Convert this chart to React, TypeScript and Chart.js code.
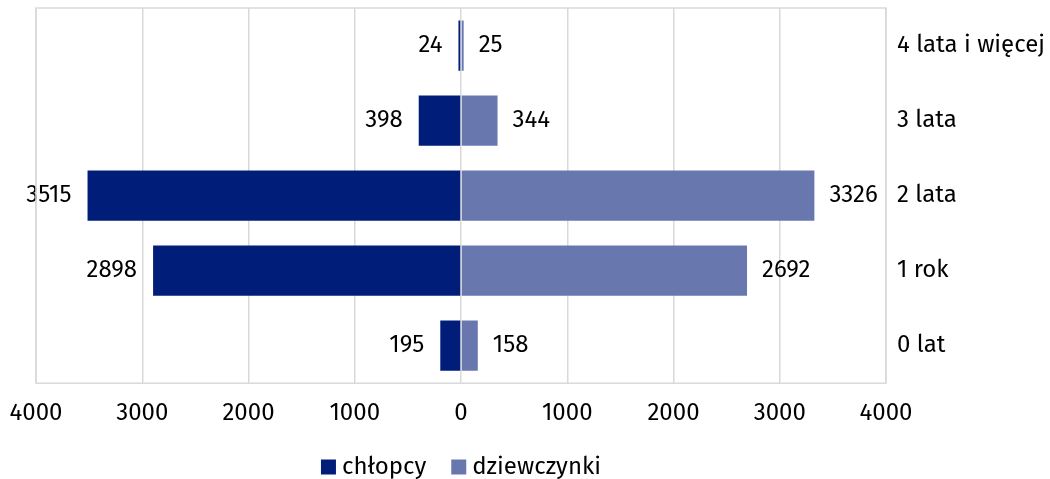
import React, { useEffect, useRef } from "react";
import { Chart, registerables } from "chart.js";

Chart.register(...registerables);

const categories = ["4 lata i więcej", "3 lata", "2 lata", "1 rok", "0 lat"];
const boys = [24, 398, 3515, 2898, 195];
const girls = [25, 344, 3326, 2692, 158];
const seriesNames = ["chłopcy", "dziewczynki"];
const xTicks = [-4000, -3000, -2000, -1000, 0, 1000, 2000, 3000, 4000];

const BOYS_COLOR = "#001E79";
const GIRLS_COLOR = "#6878AF";
const COLORS = [BOYS_COLOR, GIRLS_COLOR];
const FONT = "'Fira Sans', 'Open Sans', sans-serif";
const FS = 24;

export default function App() {
  const ref = useRef<HTMLCanvasElement | null>(null);

  useEffect(() => {
    document.body.style.margin = "0";
    const canvas = ref.current;
    if (!canvas) return;

    const labelPlugin = {
      id: "valueLabels",
      afterDatasetsDraw(chart: any) {
        const ctx = chart.ctx;
        ctx.save();
        ctx.font = `${FS}px ${FONT}`;
        ctx.fillStyle = "#000";
        ctx.textBaseline = "middle";
        chart.data.datasets.forEach((ds: any, di: number) => {
          const meta = chart.getDatasetMeta(di);
          meta.data.forEach((el: any, i: number) => {
            const v = ds.data[i];
            const txt = String(Math.abs(v));
            if (v < 0) {
              ctx.textAlign = "right";
              ctx.fillText(txt, el.x - 16, el.y);
            } else {
              ctx.textAlign = "left";
              ctx.fillText(txt, el.x + 15, el.y);
            }
          });
        });
        ctx.restore();
      },
    };

    const framePlugin = {
      id: "frame",
      afterDraw(chart: any) {
        const { left, right, top, bottom } = chart.chartArea;
        const ctx = chart.ctx;
        ctx.save();
        ctx.strokeStyle = "#D9D9D9";
        ctx.lineWidth = 1.5;
        ctx.strokeRect(left, top, right - left, bottom - top);
        ctx.restore();
      },
    };

    const legendPlugin = {
      id: "customLegend",
      afterDraw(chart: any) {
        const ctx = chart.ctx;
        const { left, right } = chart.chartArea;
        const box = 15;
        const gapText = 6;
        const gapItem = 25;
        const cy = 467;
        ctx.save();
        ctx.font = `${FS}px ${FONT}`;
        ctx.textBaseline = "middle";
        ctx.textAlign = "left";
        const widths = seriesNames.map((n) => ctx.measureText(n).width);
        const total =
          widths.reduce((a, w) => a + box + gapText + w, 0) +
          gapItem * (seriesNames.length - 1);
        let x = (left + right) / 2 - total / 2;
        seriesNames.forEach((n, i) => {
          ctx.fillStyle = COLORS[i];
          ctx.fillRect(x, cy - box / 2, box, box);
          x += box + gapText;
          ctx.fillStyle = "#000";
          ctx.fillText(n, x, cy);
          x += widths[i] + gapItem;
        });
        ctx.restore();
      },
    };

    const chart = new Chart(canvas, {
      type: "bar",
      data: {
        labels: categories,
        datasets: [
          {
            label: seriesNames[0],
            data: boys.map((v) => -v),
            backgroundColor: BOYS_COLOR,
            categoryPercentage: 1,
            barPercentage: 0.67,
          },
          {
            label: seriesNames[1],
            data: girls,
            backgroundColor: GIRLS_COLOR,
            categoryPercentage: 1,
            barPercentage: 0.67,
          },
        ],
      },
      options: {
        indexAxis: "y",
        animation: false,
        responsive: true,
        maintainAspectRatio: false,
        layout: { padding: { left: 36, right: 0, top: 8, bottom: 35 } },
        scales: {
          x: {
            stacked: true,
            min: -4000,
            max: 4000,
            afterBuildTicks(scale: any) {
              scale.ticks = xTicks.map((v) => ({ value: v }));
            },
            afterFit(scale: any) {
              scale.paddingLeft = 0;
              scale.paddingRight = 0;
            },
            ticks: {
              callback: (v: any) => String(Math.abs(Number(v))),
              font: { family: FONT, size: FS },
              color: "#000",
              padding: 16,
              maxRotation: 0,
            },
            grid: { color: "#D9D9D9", drawTicks: false, lineWidth: 1.5 },
            border: { display: false },
          },
          y: {
            stacked: true,
            position: "right",
            ticks: {
              font: { family: FONT, size: FS },
              color: "#000",
              padding: 11,
            },
            grid: { display: false, drawTicks: false },
            border: { display: false },
            afterFit(scale: any) {
              scale.width = 164;
              scale.paddingTop = 0;
              scale.paddingBottom = 0;
            },
          },
        },
        plugins: {
          legend: { display: false },
          tooltip: { enabled: false },
        },
      },
      plugins: [labelPlugin, framePlugin, legendPlugin],
    });

    return () => chart.destroy();
  }, []);

  return (
    <div style={{ width: 1050, height: 479, position: "relative" }}>
      <canvas ref={ref} />
    </div>
  );
}
